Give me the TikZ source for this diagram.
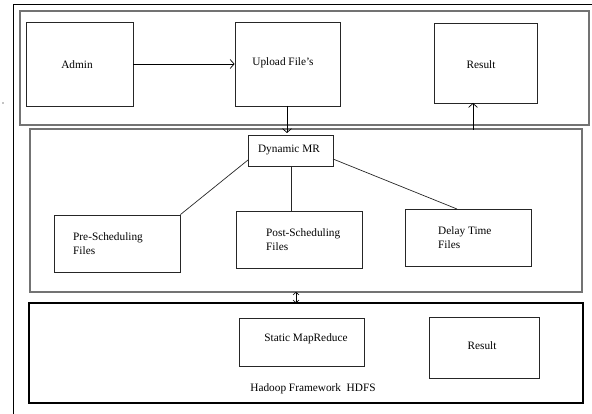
\documentclass[tikz,border=0pt]{standalone}
\usepackage{fontspec}
\setmainfont{Liberation Serif}
\usetikzlibrary{arrows.meta}
\begin{document}
\begin{tikzpicture}[x=1pt,y=-1pt,
  box/.style={draw=black!85,line width=0.8pt},
  frame/.style={draw=black!55,line width=1.1pt},
  lbl/.style={font=\fontsize{11.3}{13}\selectfont,inner sep=0pt},
  lblL/.style={font=\fontsize{11.3}{13.5}\selectfont,inner sep=0pt,align=left,anchor=west},
  arr/.style={-{Straight Barb[length=4pt,width=9pt]},line width=0.7pt},
  conn/.style={line width=0.7pt,draw=black!85}]
\useasboundingbox (0,0) rectangle (592,414);
% outer frame (top and left only)
\draw[line width=0.9pt] (592,4) -- (13,4) -- (13,414);
\fill (3,103) circle (0.6pt);
% group frames
\draw[frame] (20,11) rectangle (589,125);
\draw[frame] (30,129) rectangle (582,292);
\draw[line width=1.3pt] (29,303) rectangle (583,403);
% top row
\node[box,minimum width=107pt,minimum height=84pt] (admin) at (79.5,64) {};
\node[lbl] at (77,65) {Admin};
\node[box,minimum width=105pt,minimum height=84pt] (upload) at (287.5,64) {};
\node[lbl] at (283,63) {Upload File\char"27 s};
\node[box,minimum width=103pt,minimum height=80pt] (res1) at (485.5,63) {};
\node[lbl] at (481,65) {Result};
% middle
\node[box,minimum width=85pt,minimum height=31pt] (dyn) at (290.5,150.5) {};
\node[lbl] at (289,150) {Dynamic MR};
\node[box,minimum width=126pt,minimum height=57pt] (pre) at (117,243.5) {};
\node[lblL] at (73,243.5) {Pre-Scheduling\\Files};
\node[box,minimum width=126pt,minimum height=57pt] (post) at (299,239.5) {};
\node[lblL] at (266,239.5) {Post-Scheduling\\Files};
\node[box,minimum width=126pt,minimum height=57pt] (delay) at (468,237.5) {};
\node[lblL] at (438,237.5) {Delay Time\\Files};
% bottom
\node[box,minimum width=125pt,minimum height=48pt] (static) at (301.5,342) {};
\node[lbl] at (306,339) {Static MapReduce};
\node[box,minimum width=110pt,minimum height=61pt] (res2) at (484,347.5) {};
\node[lbl] at (482,346) {Result};
\node[lbl] at (313,389) {Hadoop Framework\ \ HDFS};
% connectors
\draw[arr] (admin.east) -- (upload.west);
\coordinate (u1) at (287,133);
\draw[arr] (287,106) -- (u1);
\coordinate (r1) at (473,130);
\draw[arr] (r1) -- (473,103);
\draw[conn] (248,160) -- (pre.north east);
\draw[conn] (291,166) -- (291,211);
\draw[conn] (333,159) -- (457,209);
\coordinate (d1) at (296,292);
\coordinate (d2) at (296,303);
\draw[{Straight Barb[length=2.5pt,width=6pt]}-{Straight Barb[length=2.5pt,width=6pt]},line width=0.6pt] (d1) -- (d2);
\end{tikzpicture}
\end{document}
